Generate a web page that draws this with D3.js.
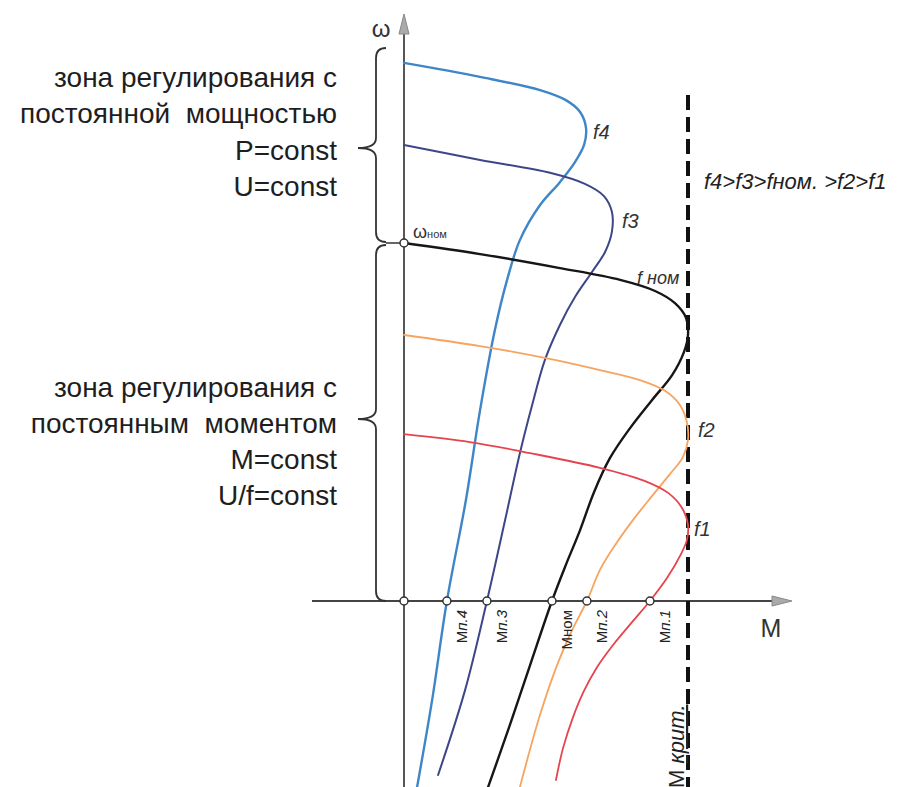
<!DOCTYPE html>
<meta charset="utf-8">
<style>
	body { margin: 0; background: #fff; }
	svg { display: block; font-family: "Liberation Sans", Arial, sans-serif; }
	.zone { font-size: 28px; fill: #1e1e1e; text-anchor: end; }
	.curve { fill: none; stroke-linecap: round; }
	.flabel { font-style: italic; font-size: 20px; fill: #333; }
	.tlabel { font-size: 15px; fill: #222; }
</style>
<body>
<script src="https://cdn.jsdelivr.net/npm/d3@7/dist/d3.min.js"></script>
<script>

	// M in % of Mкрит, ω in % of ωном
	var f4M = [0, 26.8, 47.9, 57, 62, 64.1, 63.4, 60.2, 54.9, 47.9, 40.8, 36.3, 32, 26.8, 21.8, 15.1, 9.9, 4.6];
	var f4W = [150.3, 146.4, 142.7, 139.9, 136.6, 132.1, 127.4, 122.6, 117, 110.6, 100.8, 89.7, 75.7, 53.4, 28.2, 0, -27.7, -52];

	var f3M = [0, 26.8, 51.4, 63.7, 70.4, 73.2, 73.2, 70.8, 66.2, 60.2, 54.9, 49.6, 45.1, 40.8, 35.6, 29.2, 21.5, 12];
	var f3W = [127.4, 123.2, 119.6, 116.5, 113.1, 108.7, 103.1, 97.5, 91.9, 84.9, 77.1, 67.3, 54.7, 41.3, 22.6, 0, -24.9, -48.6];

	var fnomM = [0, 26.8, 54.9, 76.1, 88.4, 95.4, 99.3, 100, 98.6, 94.4, 87.3, 79.6, 72.5, 66.9, 62, 57, 52.1, 44.4, 37.3, 29.6];
	var fnomW = [100, 96.9, 93, 89.7, 86.6, 83.2, 79.1, 74.3, 69.6, 63.1, 56.1, 48.3, 39.9, 30.4, 19.8, 10.1, 0, -17.9, -34.6, -52];

	var f2M = [0, 26.8, 49.6, 69, 83.1, 91.9, 97.2, 99.6, 100, 98.2, 93.7, 87.3, 80.6, 74.3, 69, 64.4, 59.2, 53.9, 47.9, 40.8];
	var f2W = [74.3, 71.2, 67.9, 64.5, 61.7, 58.7, 54.7, 50, 45, 40.2, 35.5, 29.3, 22.6, 15.6, 8.7, 0, -8.1, -17.9, -31.8, -52];

	var f1M = [0, 23.2, 44.4, 69, 84.9, 93, 97.9, 100, 99.6, 97.2, 92.6, 86.6, 80.3, 73.6, 67.8, 63.2, 59.4, 56, 53.5];
	var f1W = [46.6, 44.4, 41.3, 37.2, 33.5, 30.2, 26, 21.2, 17, 12.6, 6.4, 0, -5.9, -12.3, -18.7, -25.4, -32.7, -41.1, -50];

	var startLabels = ["п.4", "п.3", "ном", "п.2", "п.1"];
	var startTorque = [15.1, 29.2, 52.1, 64.4, 86.6];

	var mKrit = 100;

	var width = 900,
		height = 787;

	var x = d3.scaleLinear().domain([0, 100]).range([404, 688]);
	var y = d3.scaleLinear().domain([0, 100]).range([601, 243]);

	var svg = d3.select("body").append("svg")
		.attr("width", width)
		.attr("height", height);

	var curves = [
		{ m: f4M, w: f4W, color: "#3f86c8", sw: 2.4 },
		{ m: f3M, w: f3W, color: "#3d4688", sw: 2 },
		{ m: fnomM, w: fnomW, color: "#161616", sw: 2.4 },
		{ m: f2M, w: f2W, color: "#f6a45f", sw: 1.8 },
		{ m: f1M, w: f1W, color: "#e6444d", sw: 1.8 }
	];

	// axes
	svg.append("line")
		.attr("x1", x(0)).attr("x2", x(0))
		.attr("y1", y(-60)).attr("y2", 32)
		.attr("stroke", "#444").attr("stroke-width", 1.8);
	svg.append("path")
		.attr("d", "M" + x(0) + ",14 L" + (x(0) - 5) + ",34 L" + (x(0) + 5) + ",34 Z")
		.attr("fill", "#aaa").attr("stroke", "#888");

	svg.append("line")
		.attr("x1", 312).attr("x2", 774)
		.attr("y1", y(0)).attr("y2", y(0))
		.attr("stroke", "#444").attr("stroke-width", 1.8);
	svg.append("path")
		.attr("d", "M792," + y(0) + " L772," + (y(0) - 5) + " L772," + (y(0) + 5) + " Z")
		.attr("fill", "#aaa").attr("stroke", "#888");

	// M крит
	svg.append("line")
		.attr("x1", x(mKrit)).attr("x2", x(mKrit))
		.attr("y1", 95).attr("y2", height)
		.attr("stroke", "#111").attr("stroke-width", 4)
		.attr("stroke-dasharray", "15,7");

	var line = d3.line()
		.x(function(d) { return x(d[0]); })
		.y(function(d) { return y(d[1]); })
		.curve(d3.curveCatmullRom.alpha(0.5));

	svg.selectAll(".curve")
		.data(curves)
		.enter().append("path")
		.attr("class", "curve")
		.attr("d", function(c) { return line(d3.zip(c.m, c.w)); })
		.attr("stroke", function(c) { return c.color; })
		.attr("stroke-width", function(c) { return c.sw; });

	// braces
	function brace(bx, y0, ym, y1, d, r) {
		return "M" + (bx + r) + "," + y0 +
			" Q" + bx + "," + y0 + " " + bx + "," + (y0 + r) +
			" L" + bx + "," + (ym - r) +
			" Q" + bx + "," + ym + " " + (bx - d) + "," + ym +
			" Q" + bx + "," + ym + " " + bx + "," + (ym + r) +
			" L" + bx + "," + (y1 - r) +
			" Q" + bx + "," + y1 + " " + (bx + r) + "," + y1;
	}
	svg.append("path")
		.attr("d", brace(376, 48, 148, y(100) - 1, 18, 10))
		.attr("fill", "none").attr("stroke", "#333").attr("stroke-width", 1.8);
	svg.append("path")
		.attr("d", brace(376, y(100) + 2, 419, y(0), 18, 10))
		.attr("fill", "none").attr("stroke", "#333").attr("stroke-width", 1.8);
	svg.append("line")
		.attr("x1", 386).attr("x2", x(0))
		.attr("y1", y(100)).attr("y2", y(100))
		.attr("stroke", "#333").attr("stroke-width", 1.5);

	// zone texts
	var zoneTop = ["зона регулирования с", "постоянной  мощностью", "P=const", "U=const"];
	var zoneBottom = ["зона регулирования с", "постоянным  моментом", "M=const", "U/f=const"];

	svg.selectAll(".zt")
		.data(zoneTop)
		.enter().append("text")
		.attr("class", "zone")
		.attr("x", 337)
		.attr("y", function(d, i) { return 87 + i * 36.3; })
		.style("white-space", "pre")
		.text(function(d) { return d; });

	svg.selectAll(".zb")
		.data(zoneBottom)
		.enter().append("text")
		.attr("class", "zone")
		.attr("x", 337)
		.attr("y", function(d, i) { return 397 + i * 36; })
		.style("white-space", "pre")
		.text(function(d) { return d; });

	// points
	var pts = [[0, 100], [0, 0]].concat(startTorque.map(function(v) { return [v, 0]; }));
	svg.selectAll(".pt")
		.data(pts)
		.enter().append("circle")
		.attr("cx", function(d) { return x(d[0]); })
		.attr("cy", function(d) { return y(d[1]); })
		.attr("r", 4)
		.attr("fill", "#fff")
		.attr("stroke", "#333")
		.attr("stroke-width", 1.5);

	// start torque labels
	var tl = svg.selectAll(".tlabel")
		.data(startTorque)
		.enter().append("text")
		.attr("class", "tlabel")
		.attr("text-anchor", "end")
		.attr("dominant-baseline", "central")
		.attr("transform", function(d) { return "translate(" + (x(d) + 14) + "," + (y(0) + 9) + ") rotate(-90)"; });
	tl.append("tspan").text("М");
	tl.append("tspan")
		.style("font-style", function(d, i) { return startLabels[i] === "ном" ? "normal" : "italic"; })
		.text(function(d, i) { return startLabels[i]; });

	var mk = svg.append("text")
		.attr("transform", "translate(" + (x(mKrit) - 4) + ",788) rotate(-90)")
		.attr("font-size", 22)
		.attr("fill", "#222");
	mk.append("tspan").text("М ");
	mk.append("tspan").style("font-style", "italic").style("text-decoration", "underline").text("крит.");

	// axis labels
	svg.append("text").attr("x", 771).attr("y", 637).attr("text-anchor", "middle")
		.attr("font-size", 25).attr("fill", "#333").text("M");
	svg.append("text").attr("x", 381).attr("y", 37).attr("text-anchor", "middle")
		.attr("font-size", 24).attr("fill", "#333").text("ω");

	var wn = svg.append("text").attr("x", 413).attr("y", 238).attr("fill", "#333");
	wn.append("tspan").attr("font-size", 18).text("ω");
	wn.append("tspan").attr("font-size", 11).text("ном");

	// curve labels
	var fl = [
		{ t: "f4", x: 593, y: 139 },
		{ t: "f3", x: 622, y: 228 },
		{ t: "f ном", x: 637, y: 284 },
		{ t: "f2", x: 698, y: 437 },
		{ t: "f1", x: 694, y: 536 }
	];
	svg.selectAll(".flabel")
		.data(fl)
		.enter().append("text")
		.attr("class", "flabel")
		.attr("x", function(d) { return d.x; })
		.attr("y", function(d) { return d.y; })
		.style("font-size", function(d) { return d.t === "f ном" ? "18px" : null; })
		.style("white-space", "pre")
		.text(function(d) { return d.t; });

	svg.append("text")
		.attr("x", 704).attr("y", 189)
		.attr("font-size", 22).attr("font-style", "italic").attr("fill", "#222")
		.style("white-space", "pre")
		.text("f4>f3>fном. >f2>f1");
</script>
